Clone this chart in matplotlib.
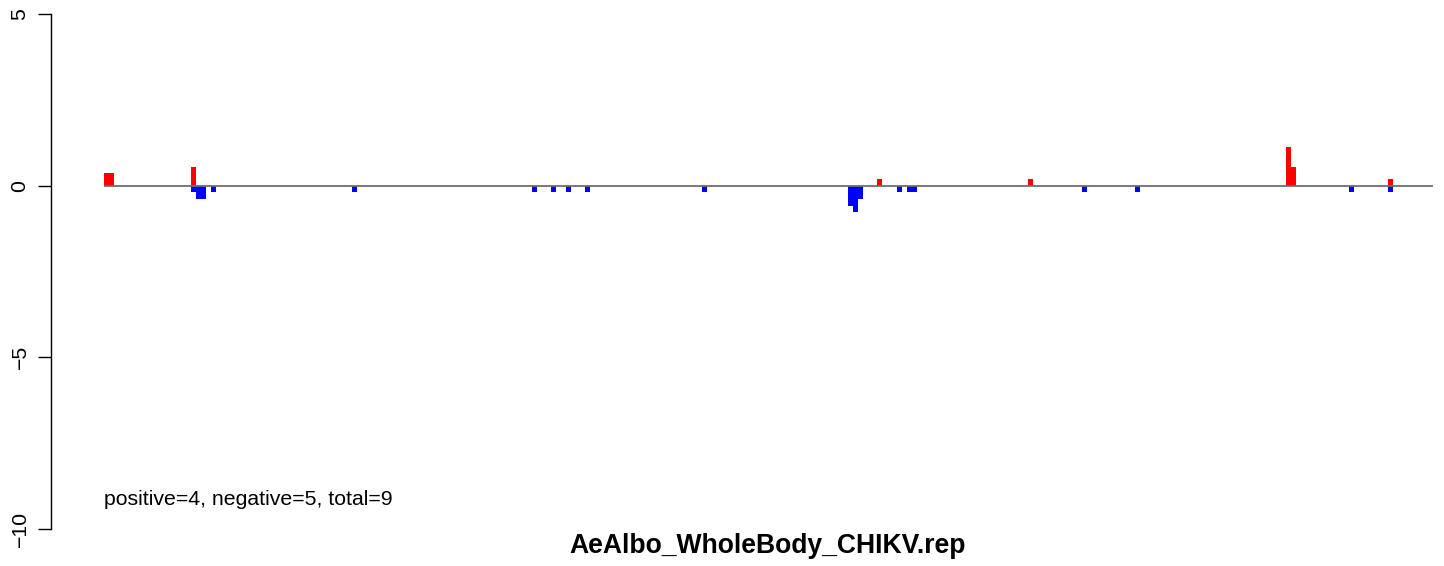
import matplotlib
matplotlib.use('Agg')
from matplotlib import pyplot as plt

plt.rcParams['font.family'] = ['Liberation Sans', 'DejaVu Sans']

# bin index along the sequence and bar height for each bar
pos_bins = [0, 1, 17.7, 157.1, 187.8, 240.2, 241.2, 261.0]
pos_vals = [0.38, 0.38, 0.55, 0.19, 0.19, 1.14, 0.55, 0.19]

neg_bins = [17.7, 18.7, 19.7, 21.7, 50.4, 86.9, 90.9, 93.9, 97.8, 121.5,
            151.2, 152.2, 153.2, 161.2, 163.2, 164.2, 198.8, 209.6, 253.0, 261.0]
neg_vals = [-0.19, -0.4, -0.4, -0.19, -0.19, -0.19, -0.19, -0.19, -0.19, -0.19,
            -0.6, -0.77, -0.4, -0.19, -0.19, -0.19, -0.19, -0.19, -0.19, -0.19]

n_bins = 270
y_ticks = [-10, -5, 0, 5]
title = 'AeAlbo_WholeBody_CHIKV.rep'
summary = 'positive=4, negative=5, total=9'

fig = plt.figure(figsize=(14.44, 5.66), dpi=100)
ax = fig.add_axes([51 / 1444, 37 / 566, 1385 / 1444, 515 / 566])

ax.bar(pos_bins, pos_vals, width=1, align='edge', color='#ff0000', linewidth=0)
ax.bar(neg_bins, neg_vals, width=1, align='edge', color='#0000ff', linewidth=0)
ax.hlines(0, 0, n_bins, color='#6e6e6e', lw=1.3, zorder=3)

ax.text(0, -9.15, summary, ha='left', va='center', fontsize=15.3)

ax.set_xlim(-10.77, 270.7)
ax.set_ylim(-10, 5)
ax.set_yticks(y_ticks)
ax.set_yticklabels(['\u221210', '\u22125', '0', '5'])
plt.setp(ax.get_yticklabels(), rotation=90, va='center')
ax.tick_params(axis='y', direction='out', length=9.4, width=1, labelsize=15.3, pad=6)
ax.set_xticks([])
for side in ['top', 'right', 'bottom']:
    ax.spines[side].set_visible(False)
ax.spines['left'].set_linewidth(1)

fig.text(768 / 1444, 1 - 546 / 566, title, ha='center', va='center',
         fontsize=19.1, fontweight='bold')

fig.savefig('out.png', dpi=100)
